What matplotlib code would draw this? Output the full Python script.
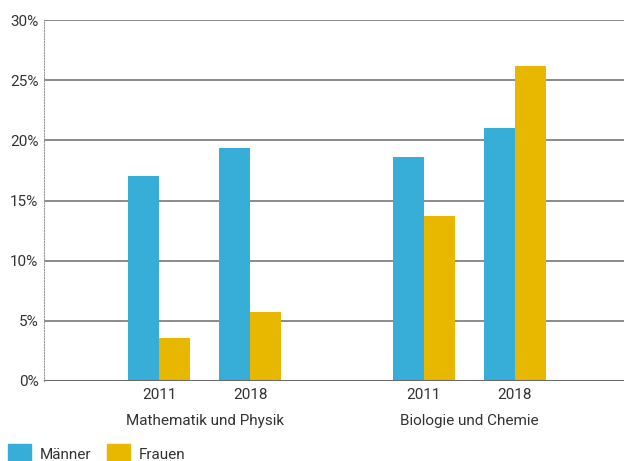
import matplotlib.pyplot as plt
from matplotlib.patches import Rectangle

plt.rcParams['font.family'] = ['Roboto', 'DejaVu Sans']

groups = ["Mathematik und Physik", "Biologie und Chemie"]
years = ["2011", "2018"]
series = ["Männer", "Frauen"]
maenner = [17.0, 19.4, 18.6, 21.0]  # math 2011, math 2018, bio 2011, bio 2018
frauen = [3.6, 5.7, 13.7, 26.2]
colors = ["#36aed8", "#e8b700"]

fig = plt.figure(figsize=(6.24, 4.61), dpi=100)
ax = fig.add_axes([44 / 624, 1 - 381 / 461, 580 / 624, 361 / 461])

gap = 2.91  # distance between group starts
pos = [g * gap + y for g in range(len(groups)) for y in range(len(years))]
w = 0.34
ax.bar([p - w / 2 for p in pos], maenner, w, color=colors[0], zorder=3)
ax.bar([p + w / 2 for p in pos], frauen, w, color=colors[1], zorder=3)

ax.set_xlim(-1.264, 5.11)
ax.set_ylim(0, 30)
ax.set_yticks(range(0, 31, 5))
ax.set_yticklabels([f"{v}%" for v in range(0, 31, 5)], fontsize=11, color="#333333")
for v in range(5, 31, 5):
    ax.axhline(v, color="#8a8a8a", lw=1.4, zorder=1)
ax.axhline(0, color="#6a6a6a", lw=1.5, zorder=4)
ax.tick_params(axis="y", length=0, pad=4)

ax.set_xticks(pos)
ax.set_xticklabels(years * len(groups), fontsize=11, color="#333333")
ax.tick_params(axis="x", length=0, pad=5)
for g, name in enumerate(groups):
    ax.text(g * gap + 0.5, -3.3, name, ha="center", va="center", fontsize=11,
            color="#333333")

for s in ["top", "right", "bottom"]:
    ax.spines[s].set_visible(False)
ax.spines["left"].set_color("#999999")
ax.spines["left"].set_linestyle((0, (1, 1.5)))
ax.spines["left"].set_linewidth(0.8)

# legend at the bottom
lx = [8, 107]
for i, name in enumerate(series):
    fig.add_artist(Rectangle((lx[i] / 624, -6 / 461), 23 / 624, 23 / 461,
                             color=colors[i], transform=fig.transFigure))
    fig.text((lx[i] + 32) / 624, 1 - 455 / 461, name, fontsize=11,
             color="#333333", va="center")

fig.savefig("out.png", dpi=100)
